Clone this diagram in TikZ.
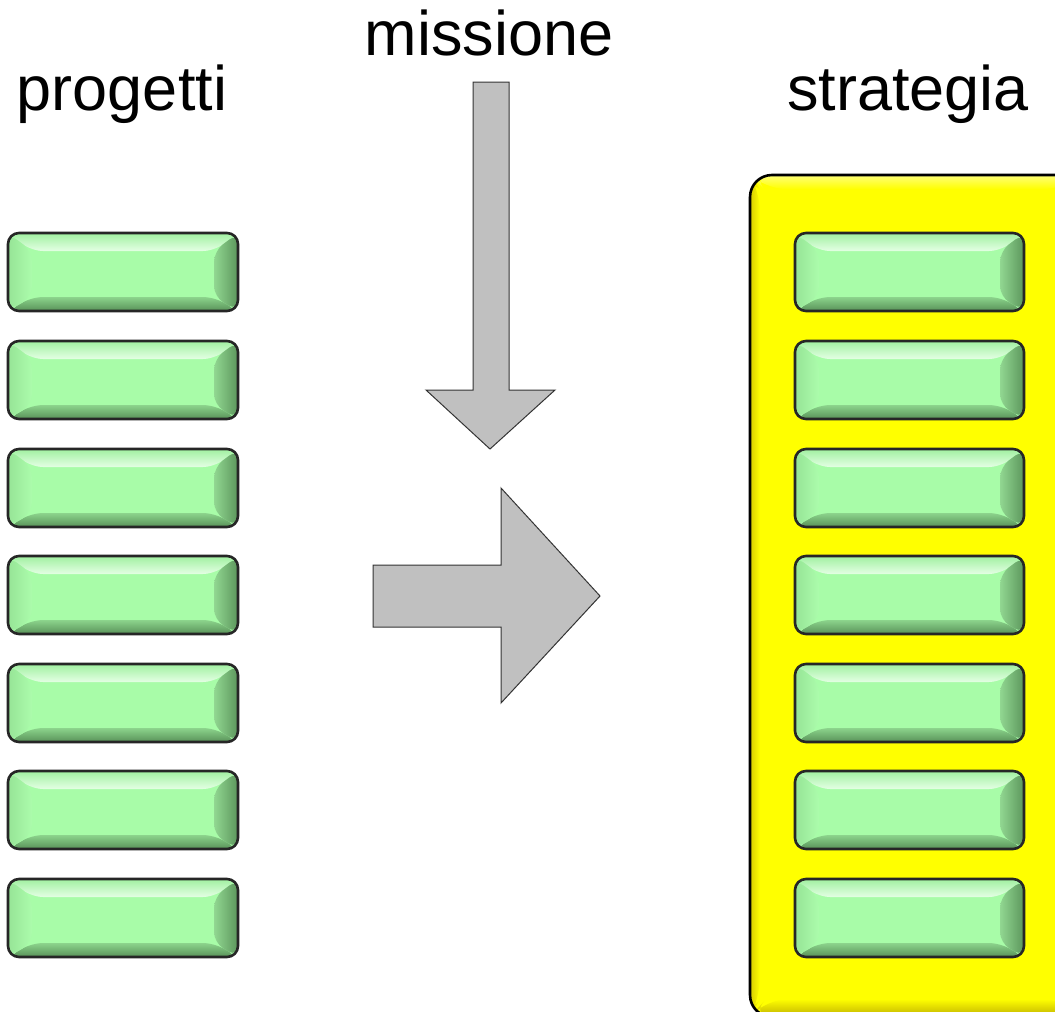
\documentclass[tikz,border=0pt]{standalone}
\usepackage{fontspec}
\setmainfont{Liberation Sans}
\definecolor{boxgreen}{RGB}{168,252,168}
\definecolor{arrowgray}{RGB}{192,192,192}
\definecolor{panelyellow}{RGB}{255,255,0}
\tikzset{
  bigtext/.style={font=\fontsize{63}{70}\selectfont, inner sep=0pt, anchor=base},
  bevelbox/.style={draw=black!85, line width=2.6pt, rounded corners=11pt, fill=boxgreen,
    minimum width=230pt, minimum height=78pt, inner sep=0pt,
    path picture={
      \coordinate (bnw) at (path picture bounding box.north west);
      \coordinate (bne) at (path picture bounding box.north east);
      \coordinate (bsw) at (path picture bounding box.south west);
      \coordinate (bse) at (path picture bounding box.south east);
      % top bevel with highlight
      \shade[top color={rgb,255:red,160;green,240;blue,160}, bottom color={rgb,255:red,228;green,255;blue,228}]
        (bnw) -- (bne) -- ([shift={(-24pt,-18pt)}]bne) -- ([shift={(24pt,-18pt)}]bnw) -- cycle;
      % bottom bevel, darker
      \shade[top color={rgb,255:red,140;green,212;blue,140}, bottom color={rgb,255:red,88;green,145;blue,88}]
        (bsw) -- (bse) -- ([shift={(-24pt,14pt)}]bse) -- ([shift={(24pt,14pt)}]bsw) -- cycle;
      % left bevel
      \shade[left color={rgb,255:red,150;green,228;blue,150}, right color={rgb,255:red,172;green,252;blue,172}]
        (bnw) -- ([shift={(24pt,-18pt)}]bnw) -- ([shift={(24pt,14pt)}]bsw) -- (bsw) -- cycle;
      % right bevel, shaded
      \shade[left color={rgb,255:red,145;green,215;blue,145}, right color={rgb,255:red,92;green,150;blue,92}]
        (bne) -- ([shift={(-24pt,-18pt)}]bne) -- ([shift={(-24pt,14pt)}]bse) -- (bse) -- cycle;
    }},
  panel/.style={draw=black, line width=2.6pt, rounded corners=22pt, fill=panelyellow,
    path picture={
      \coordinate (pnw) at (path picture bounding box.north west);
      \coordinate (pne) at (path picture bounding box.north east);
      \coordinate (psw) at (path picture bounding box.south west);
      \coordinate (pse) at (path picture bounding box.south east);
      \shade[top color={rgb,255:red,255;green,255;blue,120}, bottom color=panelyellow]
        (pnw) -- (pne) -- ([shift={(-14pt,-14pt)}]pne) -- ([shift={(14pt,-14pt)}]pnw) -- cycle;
      \shade[top color=panelyellow, bottom color={rgb,255:red,190;green,175;blue,0}]
        (psw) -- (pse) -- ([shift={(-16pt,18pt)}]pse) -- ([shift={(16pt,18pt)}]psw) -- cycle;
      \shade[left color={rgb,255:red,215;green,205;blue,0}, right color=panelyellow]
        (pnw) -- ([shift={(10pt,-14pt)}]pnw) -- ([shift={(10pt,18pt)}]psw) -- (psw) -- cycle;
    }},
  bigarrow/.style={fill=arrowgray, draw=black!80, line width=1pt, line join=miter}
}
\begin{document}
\begin{tikzpicture}[x=1pt, y=-1pt]
\useasboundingbox (0,0) rectangle (1055,1012);
\clip (0,0) rectangle (1055,1012);

% labels
\node[bigtext] (lprog) at (122,110) {progetti};
\node[bigtext] (lmiss) at (489,55) {missione};
\node[bigtext] (lstrat) at (908,110) {strategia};

% yellow strategy panel
\node[panel, minimum width=330pt, minimum height=842pt, inner sep=0pt] (panel) at (915,596) {};

% project boxes (left) and strategy boxes (right)
\foreach \i/\y in {1/272, 2/380, 3/488, 4/595, 5/703, 6/810, 7/918} {
  \node[bevelbox] (p\i) at (123,\y) {};
  \node[bevelbox, minimum width=229pt] (s\i) at (909.5,\y) {};
}

% mission arrow pointing down
\draw[bigarrow] (473,82) -- (509,82) -- (509,390) -- (555,390) -- (490,449)
  -- (426,390) -- (473,390) -- cycle;

% arrow from projects to strategy
\draw[bigarrow] (373,565) -- (501,565) -- (501,488) -- (600,596) -- (501,703)
  -- (501,627) -- (373,627) -- cycle;
\end{tikzpicture}
\end{document}
